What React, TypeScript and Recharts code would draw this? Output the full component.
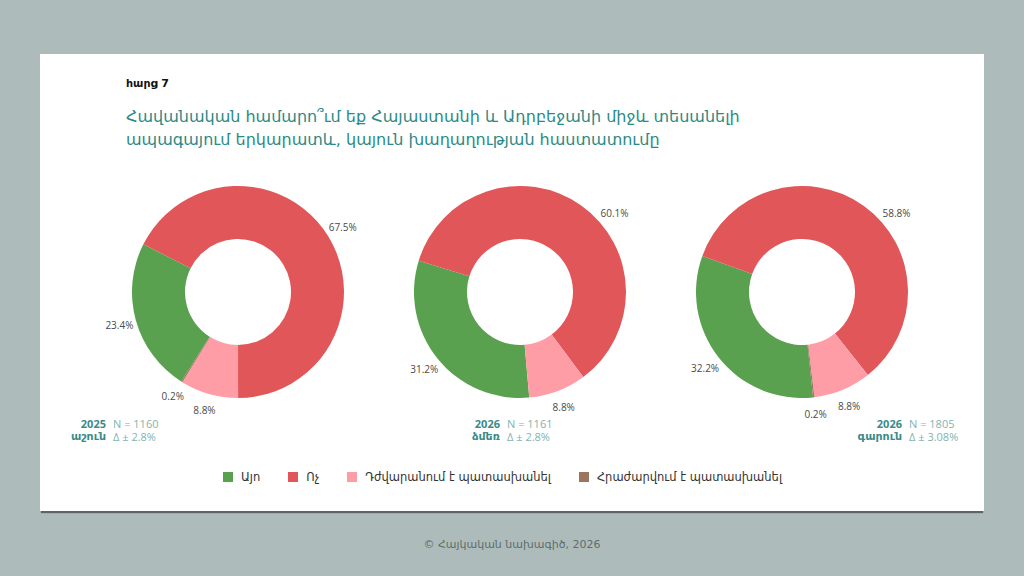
import React from 'react';
import { PieChart, Pie, Cell } from 'recharts';

// answer options and their colours
const categories = ['Այո', 'Ոչ', 'Դժվարանում է պատասխանել', 'Հրաժարվում է պատասխանել'];
const colors = ['#59a14f', '#e15759', '#ff9da7', '#9c755f'];

// survey waves, values in %
const autumn2025 = [23.4, 67.5, 8.8, 0.2];
const winter2026 = [31.2, 60.1, 8.8, 0];
const spring2026 = [32.2, 58.8, 8.8, 0.2];

const waveYears = ['2025', '2026', '2026'];
const waveSeasons = ['աշուն', 'ձմեռ', 'գարուն'];
const sampleSizes = [1160, 1161, 1805];
const marginsOfError = ['2.8%', '2.8%', '3.08%'];

const waves = [autumn2025, winter2026, spring2026];

const ARM_FONT = '"DejaVu Sans", sans-serif';
const NUM_FONT = '"Open Sans", "DejaVu Sans", sans-serif';

// layout of each donut on the page
const donutCenters = [238, 520, 802];
const donutCy = 292;
const startAngles = [-122.4, -85, -84];
const annotationX = [113, 507, 909];

const RAD = Math.PI / 180;

function renderLabel(props: any) {
    const { cx, cy, midAngle, outerRadius, value } = props;
    if (!value) return null;
    const r = outerRadius + 17;
    let x = cx + r * Math.cos(-midAngle * RAD);
    let y = cy + r * Math.sin(-midAngle * RAD);
    // keep labels of large slices from climbing over the ring
    const maxRise = 0.64 * r;
    if (y < cy - maxRise) {
        y = cy - maxRise;
        const side = Math.cos(-midAngle * RAD) >= 0 ? 1 : -1;
        x = cx + side * Math.sqrt(r * r - maxRise * maxRise);
    }
    return (
        <text x={x} y={y} fill="#4a4a4a" fontSize={10} fontFamily={NUM_FONT} textAnchor="middle" dominantBaseline="central">
            {`${value}%`}
        </text>
    );
}

function Donut({ values, index }: { values: number[]; index: number }) {
    const data = categories.map((name, i) => ({ name, value: values[i] }));
    const size = 300;
    return (
        <div style={{ position: 'absolute', left: donutCenters[index] - size / 2, top: donutCy - size / 2 }}>
            <PieChart width={size} height={size}>
                <Pie
                    data={data}
                    dataKey="value"
                    cx="50%"
                    cy="50%"
                    innerRadius={53}
                    outerRadius={106}
                    startAngle={startAngles[index]}
                    endAngle={startAngles[index] - 360}
                    stroke="none"
                    label={renderLabel}
                    labelLine={false}
                    isAnimationActive={false}
                >
                    {data.map((d, i) => (
                        <Cell key={d.name} fill={colors[i]} />
                    ))}
                </Pie>
            </PieChart>
        </div>
    );
}

function WaveNote({ index }: { index: number }) {
    return (
        <div
            style={{
                position: 'absolute',
                left: annotationX[index] - 60,
                top: 417,
                display: 'grid',
                gridTemplateColumns: '53px auto',
                columnGap: 7,
                fontSize: 11,
                lineHeight: '13px',
                whiteSpace: 'nowrap',
            }}
        >
            <div style={{ textAlign: 'right', fontWeight: 700, color: '#3b8a8a', fontFamily: NUM_FONT }}>{waveYears[index]}</div>
            <div style={{ color: '#7fb3b1', fontFamily: NUM_FONT }}>N = {sampleSizes[index]}</div>
            <div style={{ textAlign: 'right', fontWeight: 700, color: '#3b8a8a', fontFamily: ARM_FONT }}>{waveSeasons[index]}</div>
            <div style={{ color: '#7fb3b1', fontFamily: NUM_FONT }}>Δ ± {marginsOfError[index]}</div>
        </div>
    );
}

export default function App() {
    return (
        <div style={{ position: 'absolute', left: 0, top: 0, width: 1024, height: 576, background: '#adbcbb', overflow: 'hidden' }}>
            <div
                style={{
                    position: 'absolute',
                    left: 40,
                    top: 54,
                    width: 944,
                    height: 457,
                    background: '#fff',
                    boxShadow: '0 3px 1px -1px #5f6362',
                }}
            />
            <div style={{ position: 'absolute', left: 126, top: 77, fontSize: 11, fontWeight: 700, color: '#111', fontFamily: ARM_FONT }}>
                հարց 7
            </div>
            <div
                style={{
                    position: 'absolute',
                    left: 126,
                    top: 105,
                    width: 640,
                    fontSize: 16,
                    lineHeight: '23px',
                    color: '#2b8a86',
                    fontFamily: ARM_FONT,
                }}
            >
                Հավանական համարո՞ւմ եք Հայաստանի և Ադրբեջանի միջև տեսանելի
                <br />
                ապագայում երկարատև, կայուն խաղաղության հաստատումը
            </div>

            {waves.map((values, i) => (
                <Donut key={i} values={values} index={i} />
            ))}
            {waves.map((_, i) => (
                <WaveNote key={i} index={i} />
            ))}

            <div style={{ position: 'absolute', left: 223, top: 470, display: 'flex', alignItems: 'center', gap: 28, fontFamily: ARM_FONT, fontSize: 11.5, color: '#333' }}>
                {categories.map((name, i) => (
                    <div key={name} style={{ display: 'flex', alignItems: 'center' }}>
                        <span style={{ display: 'inline-block', width: 10, height: 10, background: colors[i], marginRight: 8 }} />
                        <span>{name}</span>
                    </div>
                ))}
            </div>

            <div style={{ position: 'absolute', left: 0, width: 1024, top: 538, textAlign: 'center', fontFamily: ARM_FONT, fontSize: 11, color: '#5f6d6b' }}>
                © Հայկական նախագիծ, 2026
            </div>
        </div>
    );
}
